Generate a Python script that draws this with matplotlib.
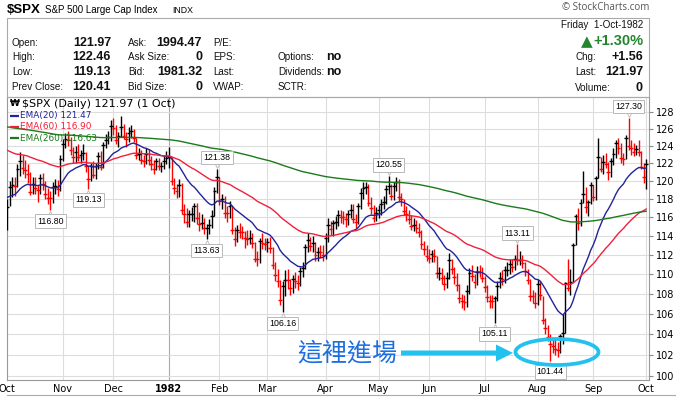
"""
$SPX daily bars, Oct 1981 - Oct 1982, with EMA(20/60/260) overlays
and a StockCharts-style quote header.
"""
import matplotlib
matplotlib.use("Agg")
import matplotlib.pyplot as plt
import matplotlib.transforms as mtransforms
import numpy as np
import pandas as pd
from matplotlib.patches import Ellipse, Rectangle, FancyArrow
from matplotlib.lines import Line2D
from matplotlib.ticker import FixedLocator, NullLocator, FixedFormatter

W, H = 676, 399

# ---- data -----------------------------------------------------------------
HOLIDAYS = ["1981-11-26", "1981-12-25", "1982-01-01", "1982-02-15",
            "1982-04-09", "1982-05-31", "1982-07-05", "1982-09-06"]
dates = pd.bdate_range("1981-10-01", "1982-10-01")
dates = dates[~dates.isin(pd.to_datetime(HOLIDAYS))]

PREV_CLOSE = 116.18  # last close before the window

closes = [
    # Oct 81
    117.08, 119.36, 119.51, 119.39, 121.31, 122.31, 121.45, 121.21, 120.78, 118.80,
    119.71, 119.19, 118.98, 120.28, 119.64, 118.60, 118.16, 118.15, 119.29, 119.45,
    119.06, 122.54,
    # Nov
    124.20, 124.80, 124.74, 123.54, 122.67, 123.29, 122.70, 122.92, 123.19, 121.67,
    120.24, 121.71, 120.71, 121.71, 122.88, 121.60, 124.05, 124.69, 125.09, 126.35,
    # Dec
    126.10, 124.69, 125.12, 126.26, 125.19, 124.82, 125.48, 125.71, 124.93, 122.99,
    123.12, 122.42, 122.31, 123.12, 122.33, 121.94, 121.36, 122.31, 121.67, 121.67,
    122.30, 122.55,
    # Jan 82
    122.74, 120.05, 119.18, 118.93, 119.55, 116.78, 116.30, 115.54, 116.33, 116.33,
    117.22, 115.97, 115.27, 115.41, 114.85, 114.88, 115.19, 116.10, 118.92, 120.40,
    # Feb
    117.78, 118.01, 116.48, 116.42, 117.26, 114.63, 113.68, 114.66, 114.43, 114.38,
    113.82, 113.69, 113.82, 113.22, 111.59, 111.51, 113.47, 113.21, 113.11,
    # Mar
    113.31, 112.68, 110.92, 109.88, 109.34, 107.34, 108.83, 109.41, 109.36, 108.61,
    109.45, 109.28, 109.08, 110.30, 110.61, 112.77, 113.55, 112.97, 113.21, 111.94,
    112.30, 112.27, 111.96,
    # Apr
    113.79, 115.12, 114.73, 115.36, 115.46, 116.22, 116.00, 115.99, 115.83, 116.35,
    116.81, 115.80, 115.44, 117.19, 118.64, 119.26, 119.33, 117.61, 117.01, 115.96,
    116.44,
    # May
    116.82, 117.46, 117.67, 119.08, 119.47, 118.38, 119.42, 119.89, 118.22, 118.01,
    116.71, 116.35, 115.84, 115.07, 115.14, 114.89, 114.40, 113.11, 112.66, 111.88,
    # Jun
    111.68, 112.04, 111.86, 110.09, 110.12, 109.63, 108.99, 109.61, 111.48, 110.50,
    109.69, 108.87, 107.60, 107.28, 107.20, 108.30, 110.14, 109.83, 109.14, 110.26,
    110.21, 109.61,
    # Jul
    108.71, 107.65, 107.29, 107.22, 107.53, 108.83, 109.57, 109.45, 110.44, 110.47,
    111.07, 110.73, 111.54, 111.42, 111.48, 111.17, 110.36, 109.43, 107.74, 107.72,
    107.09,
    # Aug
    108.98, 107.83, 105.39, 104.56, 103.71, 103.08, 102.84, 102.60, 102.42, 103.85,
    104.09, 109.04, 108.54, 109.16, 113.02, 116.11, 115.35, 117.58, 118.55, 117.11,
    117.66, 119.51,
    # Sep
    118.25, 120.29, 122.68, 121.37, 122.20, 121.97, 120.97, 122.24, 123.10, 124.29,
    123.77, 122.55, 122.51, 124.88, 123.99, 123.81, 123.32, 123.62, 123.24, 121.63,
    120.42,
    # Oct 1
    121.97,
]

highs = [
    118.0, 120.0, 120.4, 120.5, 121.9, 123.3, 122.9, 122.4, 121.9, 121.0,
    120.5, 120.5, 119.6, 120.8, 120.9, 120.0, 119.2, 118.9, 119.9, 120.2,
    120.1, 122.9,
    124.8, 125.5, 125.7, 125.0, 123.9, 124.0, 124.2, 123.5, 124.2, 123.3,
    121.7, 122.0, 122.3, 122.0, 123.3, 123.4, 124.5, 125.4, 125.7, 127.0,
    127.3, 126.5, 125.6, 127.5, 126.6, 125.6, 126.2, 126.5, 126.0, 124.9,
    123.7, 123.5, 123.0, 123.7, 123.6, 122.8, 122.4, 122.6, 122.6, 122.2,
    122.8, 123.4,
    123.9, 122.7, 120.3, 119.7, 120.2, 119.8, 117.4, 117.0, 116.8, 117.1,
    117.6, 117.6, 116.6, 116.4, 115.9, 115.3, 115.8, 116.8, 119.3, 121.38,
    120.4, 118.6, 118.3, 117.2, 117.8, 117.2, 114.9, 115.2, 115.4, 115.1,
    114.5, 114.6, 114.6, 114.3, 113.4, 112.4, 113.8, 114.3, 113.8,
    113.8, 113.9, 112.8, 111.3, 110.5, 109.4, 109.3, 110.4, 110.5, 109.5,
    109.9, 110.2, 109.9, 110.7, 111.2, 113.1, 114.3, 113.9, 114.0, 113.4,
    112.8, 113.0, 113.0,
    114.3, 115.9, 115.6, 115.7, 116.1, 116.8, 116.8, 116.7, 116.5, 116.8,
    117.5, 117.4, 116.3, 117.6, 119.2, 119.9, 119.9, 119.7, 118.2, 117.3,
    117.1,
    117.3, 118.0, 118.3, 119.5, 120.55, 119.7, 119.9, 120.4, 120.2, 118.7,
    118.0, 117.2, 116.8, 116.2, 115.9, 115.7, 115.4, 114.6, 113.5, 113.0,
    112.6, 112.5, 112.6, 111.9, 110.7, 110.6, 109.9, 110.2, 112.2, 111.6,
    110.7, 110.1, 109.0, 108.0, 107.9, 108.9, 110.6, 110.9, 110.0, 110.8,
    110.9, 110.7,
    109.8, 108.9, 107.9, 107.9, 107.8, 109.3, 110.2, 110.4, 110.8, 111.3,
    111.6, 111.6, 112.0, 113.11, 112.4, 112.0, 111.3, 110.5, 109.5, 108.4,
    108.2,
    109.5, 109.3, 107.8, 105.6, 104.9, 104.0, 103.7, 103.5, 103.2, 104.0,
    106.0, 109.2, 111.6, 110.5, 113.2, 116.3, 117.0, 118.0, 121.1, 119.3,
    117.9, 119.9,
    119.6, 120.6, 124.9, 122.7, 122.9, 123.2, 122.2, 122.6, 123.8, 124.7,
    124.9, 124.3, 123.2, 125.3, 127.30, 124.7, 124.3, 124.1, 124.7, 123.4,
    122.0,
    122.46,
]

lows = [
    114.6, 117.2, 118.2, 118.3, 119.3, 120.6, 120.8, 120.3, 119.8, 118.4,
    118.5, 118.6, 117.7, 118.6, 119.0, 118.0, 117.4, 116.80, 117.6, 118.6,
    118.3, 118.9,
    122.3, 123.7, 124.0, 123.0, 122.0, 122.0, 122.3, 122.0, 122.4, 121.0,
    119.13, 120.0, 120.3, 120.2, 121.3, 121.2, 121.5, 123.8, 124.2, 124.6,
    125.3, 124.2, 123.9, 125.0, 124.8, 123.9, 124.4, 124.9, 124.4, 122.5,
    122.4, 121.9, 121.6, 121.9, 121.8, 121.2, 120.8, 121.2, 121.2, 121.0,
    121.3, 121.9,
    121.5, 119.6, 118.5, 118.1, 118.2, 116.3, 115.4, 114.9, 115.0, 115.6,
    115.5, 115.3, 114.5, 114.7, 114.2, 113.63, 114.2, 114.8, 116.1, 118.7,
    117.3, 116.9, 115.9, 115.5, 115.9, 114.2, 112.9, 113.3, 113.8, 113.7,
    112.7, 113.0, 113.1, 112.7, 111.2, 110.8, 111.1, 112.6, 112.5,
    112.3, 112.2, 110.5, 109.3, 108.7, 106.9, 106.16, 107.8, 108.5, 107.9,
    108.1, 108.6, 108.4, 108.8, 109.7, 110.5, 112.3, 112.4, 112.3, 111.4,
    111.4, 111.7, 111.4,
    111.6, 113.3, 114.1, 114.0, 114.7, 115.1, 115.4, 115.3, 115.0, 115.2,
    115.9, 115.4, 114.8, 115.3, 116.9, 118.0, 118.5, 117.2, 116.4, 115.5,
    115.6,
    115.9, 116.2, 116.9, 117.4, 118.5, 117.9, 117.9, 118.9, 117.8, 117.2,
    116.2, 115.6, 115.3, 114.6, 114.5, 114.3, 113.9, 112.6, 112.0, 111.4,
    111.1, 111.2, 111.3, 109.6, 109.4, 109.0, 108.4, 108.6, 109.5, 110.0,
    109.0, 108.3, 107.1, 106.6, 106.4, 106.7, 108.0, 109.3, 108.6, 108.9,
    109.7, 109.2,
    108.2, 107.2, 106.6, 106.6, 105.11, 107.3, 108.6, 108.9, 109.1, 109.8,
    110.0, 110.2, 110.4, 110.9, 110.9, 110.6, 109.8, 109.0, 107.3, 107.1,
    106.6,
    106.9, 107.4, 105.0, 104.0, 103.3, 101.44, 102.2, 102.0, 101.8, 102.2,
    103.0, 104.1, 108.3, 107.9, 109.2, 113.0, 114.6, 115.1, 117.6, 116.5,
    116.1, 117.5,
    117.8, 117.9, 120.3, 121.0, 120.8, 121.5, 120.1, 120.4, 121.8, 122.6,
    123.1, 122.0, 121.8, 122.5, 123.5, 123.0, 122.8, 122.9, 122.8, 121.3,
    119.8,
    119.13,
]

# EMA starting values (level of each average just before the window)
EMA_SPANS = [20, 60, 260]
EMA_SEEDS = [118.3, 123.7, 126.3]
EMA_COLORS = ["#23239b", "#f0203c", "#1b7a1b"]
EMA_LABELS = ["EMA(20) 121.47", "EMA(60) 116.90", "EMA(260) 116.63"]

# labelled extremes: (date, value, side)
EXTREMES = [
    ("1981-10-26", 116.80, "low"), ("1981-11-16", 119.13, "low"),
    ("1982-01-29", 121.38, "high"), ("1982-01-25", 113.63, "low"),
    ("1982-03-09", 106.16, "low"), ("1982-05-07", 120.55, "high"),
    ("1982-07-21", 113.11, "high"), ("1982-07-08", 105.11, "low"),
    ("1982-08-09", 101.44, "low"), ("1982-09-22", 127.30, "high"),
]

Y_TICKS = list(range(100, 130, 2))

assert len(closes) == len(highs) == len(lows) == len(dates)


def ema(values, span, seed):
    s = pd.Series([seed] + list(values))
    return s.ewm(span=span, adjust=False).mean().to_numpy()[1:]


# ---- figure ---------------------------------------------------------------
plt.rcParams["font.family"] = ["DejaVu Sans"]
fig = plt.figure(figsize=(W / 100, H / 100), dpi=100)
fig.patch.set_facecolor("white")

ax = fig.add_axes([7 / W, 1 - 380 / H, 642 / W, 283 / H])
x = np.arange(len(dates))
c = np.array(closes)
prev = np.r_[PREV_CLOSE, c[:-1]]
bar_colors = np.where(c >= prev, "#000000", "#ff0000")

ax.vlines(x, lows, highs, colors=bar_colors, lw=1.0, zorder=3)
ax.hlines(c, x - 0.75, x + 0.75, colors=bar_colors, lw=1.0, zorder=3)

for span, seed, col in zip(EMA_SPANS, EMA_SEEDS, EMA_COLORS):
    ax.plot(x, ema(closes, span, seed), color=col, lw=1.0, zorder=4)

ax.set_yscale("log")
ax.set_ylim(99.63, 129.8)
ax.set_xlim(-0.15, len(x) + 0.1)
ax.yaxis.set_major_locator(FixedLocator(Y_TICKS))
ax.yaxis.set_major_formatter(FixedFormatter([str(v) for v in Y_TICKS]))
ax.yaxis.set_minor_locator(NullLocator())
ax.yaxis.tick_right()

month = dates.month
starts = [0] + [i for i in range(1, len(dates)) if month[i] != month[i - 1]]
labels = ["1982" if dates[i].month == 1 else dates[i].strftime("%b") for i in starts]
ax.set_xticks(starts)
ax.set_xticklabels(labels)
for lab in ax.get_xticklabels():
    if lab.get_text() == "1982":
        lab.set_fontweight("bold")
ax.tick_params(axis="x", length=0, pad=3, labelsize=7)
ax.tick_params(axis="y", length=3, width=0.8, color="#888888", pad=2, labelsize=7)
ax.grid(True, color="#dddddd", lw=0.8, zorder=0)
for i, gl in zip(starts, ax.get_xgridlines()):
    if dates[i].month == 1:
        gl.set_color("#aaaaaa")
for sp in ax.spines.values():
    sp.set_color("#999999")
    sp.set_linewidth(0.8)

# labelled highs / lows
for d, v, side in EXTREMES:
    i = dates.get_loc(pd.Timestamp(d))
    dy = -8 if side == "low" else 8
    ax.annotate(f"{v:.2f}", (i, v), xytext=(0, dy), textcoords="offset points",
                ha="center", va="center", fontsize=6.3, family="Liberation Sans",
                bbox=dict(boxstyle="square,pad=0.25", fc="white", ec="#b8b8b8", lw=0.7),
                zorder=6)
    tr = mtransforms.offset_copy(ax.transData, fig=fig, x=0, y=dy * 0.36, units="points")
    ax.plot([i], [v], marker="^" if side == "low" else "v", ms=4.5, mfc="white",
            mec="#b8b8b8", mew=0.6, transform=tr, zorder=5, clip_on=False)

# in-chart legend
ax.text(3 / 642, 1 - 7 / 283, "\u20a9", transform=ax.transAxes, fontsize=6.5,
        fontweight="bold", va="center", ha="left", zorder=8)
ax.text(15 / 642, 1 - 7 / 283, "$SPX (Daily) 121.97 (1 Oct)", transform=ax.transAxes,
        fontsize=8, va="center", ha="left", zorder=8)
for k, (lab, col) in enumerate(zip(EMA_LABELS, EMA_COLORS)):
    yy = 1 - (18.5 + 11.3 * k) / 283
    ax.plot([3 / 642, 12 / 642], [yy, yy], color=col, lw=1.6, transform=ax.transAxes,
            zorder=8, solid_capstyle="butt")
    ax.text(13.5 / 642, yy, lab, transform=ax.transAxes, fontsize=6.4, color=col,
            va="center", ha="left", zorder=8)

# ---- overlay in pixel coordinates ----------------------------------------
ov = fig.add_axes([0, 0, 1, 1], zorder=10)
ov.set_xlim(0, W)
ov.set_ylim(H, 0)
ov.axis("off")
ov.patch.set_alpha(0)

ov.add_patch(Rectangle((7, 18), 642, 79, fill=False, ec="#aaaaaa", lw=0.8))
ov.add_line(Line2D([7, 676], [394.5, 394.5], color="#aaaaaa", lw=0.8))

hdr = dict(family="Liberation Sans", fontsize=7.1, va="center", color="#111111")
val = dict(family="Liberation Sans", fontsize=9, va="center", fontweight="bold", color="#111111")

ov.text(7, 10, "$SPX", family="Liberation Sans", fontsize=9.5, fontweight="bold", va="center")
ov.text(45, 10, "S&P 500 Large Cap Index", family="Liberation Sans", fontsize=7, va="center")
ov.text(172, 10.5, "INDX", family="Liberation Sans", fontsize=6.3, va="center")
ov.text(649, 8, "\u00a9 StockCharts.com", family="Open Sans", fontsize=7, va="center",
        ha="right", color="#555555")

rows_y = [43, 57, 72, 87]
for yy, lab, v in zip(rows_y, ["Open:", "High:", "Low:", "Prev Close:"],
                      ["121.97", "122.46", "119.13", "120.41"]):
    ov.text(12, yy, lab, **hdr)
    ov.text(111, yy, v, ha="right", **val)
for yy, lab, v in zip(rows_y, ["Ask:", "Ask Size:", "Bid:", "Bid Size:"],
                      ["1994.47", "0", "1981.32", "0"]):
    ov.text(128, yy, lab, **hdr)
    ov.text(202, yy, v, ha="right", **val)
for yy, lab in zip(rows_y, ["P/E:", "EPS:", "Last:", "VWAP:"]):
    ov.text(213, yy, lab, **hdr)
for yy, lab, v in zip(rows_y[1:], ["Options:", "Dividends:", "SCTR:"], ["no", "no", ""]):
    ov.text(278, yy, lab, **hdr)
    ov.text(326, yy, v, **val)

ov.text(643, 25, "Friday  1-Oct-1982", ha="right", **hdr)
ov.text(643, 41, "+1.30%", ha="right", family="Liberation Sans", fontsize=10.5,
        fontweight="bold", color="#23862f", va="center")
ov.text(593, 41.5, "\u25b2", ha="right", family="DejaVu Sans", fontsize=11,
        color="#23862f", va="center")
for yy, lab, v in zip([57, 72, 88], ["Chg:", "Last:", "Volume:"], ["+1.56", "121.97", "0"]):
    ov.text(575, yy, lab, **hdr)
    ov.text(643, yy, v, ha="right", **val)

# hand-drawn callout
ov.text(347, 353, "這裡進場", ha="center", va="center", fontsize=18,
        family=["Noto Sans CJK TC", "DejaVu Sans"], color="#1d6fe0")
ov.add_patch(FancyArrow(401, 353, 112, 0, width=5, head_width=17, head_length=17,
                        length_includes_head=True, color="#22c2ef", lw=0))
ov.add_patch(Ellipse((557, 352), 83, 26, fill=False, ec="#22c2ef", lw=2.7))

fig.savefig("out.png", dpi=100)
